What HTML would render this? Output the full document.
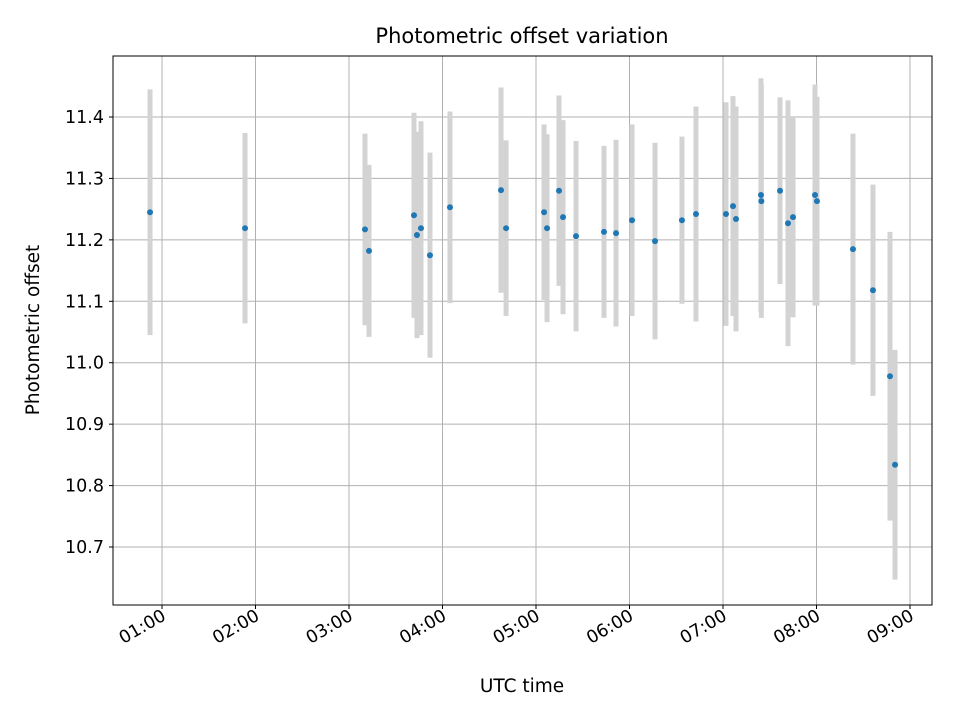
<!DOCTYPE html>
<html><head><meta charset="utf-8"><style>
body{margin:0;background:#fff;font-family:"Liberation Sans","DejaVu Sans",sans-serif}
svg text{font-family:"DejaVu Sans","Liberation Sans",sans-serif;fill:#000}
</style></head><body>
<svg id="chart" width="960" height="720" xmlns="http://www.w3.org/2000/svg">
<rect width="960" height="720" fill="#fff"/>
<text x="522" y="43" font-size="21" text-anchor="middle">Photometric offset variation</text>
<text x="522" y="692" font-size="18.5" text-anchor="middle">UTC time</text>
<text transform="translate(39,330) rotate(-90)" font-size="18.5" text-anchor="middle">Photometric offset</text>
<g id="grid"></g>
<g id="errs"></g>
<g id="pts"></g>
<g id="axes"></g>
<rect x="113" y="56" width="819" height="549" fill="none" stroke="#000" stroke-width="1"/>
</svg>
<script>
const times=[0.872,1.888,3.171,3.214,3.695,3.727,3.77,3.866,4.08,4.626,4.68,5.086,5.118,5.246,5.289,5.428,5.727,5.856,6.027,6.273,6.561,6.711,7.032,7.107,7.139,7.406,7.41,7.61,7.695,7.749,7.984,8.005,8.39,8.604,8.786,8.84];
const offsets=[11.245,11.219,11.217,11.182,11.24,11.208,11.219,11.175,11.253,11.281,11.219,11.245,11.219,11.28,11.237,11.206,11.213,11.211,11.232,11.198,11.232,11.242,11.242,11.255,11.234,11.273,11.263,11.28,11.227,11.237,11.273,11.263,11.185,11.118,10.978,10.834];
const errors=[0.2,0.155,0.156,0.14,0.167,0.168,0.174,0.167,0.156,0.167,0.143,0.143,0.153,0.155,0.158,0.155,0.14,0.152,0.156,0.16,0.136,0.175,0.182,0.179,0.183,0.19,0.19,0.152,0.2,0.163,0.18,0.17,0.188,0.172,0.235,0.187];
const xTicks=[1,2,3,4,5,6,7,8,9];
const xTickLabels=["01:00","02:00","03:00","04:00","05:00","06:00","07:00","08:00","09:00"];
const yTicks=[10.7,10.8,10.9,11.0,11.1,11.2,11.3,11.4];
const yTickLabels=["10.7","10.8","10.9","11.0","11.1","11.2","11.3","11.4"];
const NS="http://www.w3.org/2000/svg";
const X=h=>162+(h-1)*93.5;
const Y=v=>117+(11.4-v)*614.3;
function mk(tag,attrs,parent){const e=document.createElementNS(NS,tag);for(const k in attrs)e.setAttribute(k,attrs[k]);parent.appendChild(e);return e;}
const grid=document.getElementById('grid'),axes=document.getElementById('axes'),errs=document.getElementById('errs'),pts=document.getElementById('pts');
xTicks.forEach((t,i)=>{const x=X(t);
 const g=mk('line',{x1:x,x2:x,y1:56,y2:605,stroke:'#b0b0b0','stroke-width':1},grid);
 
 
 const tk=mk('line',{x1:x,x2:x,y1:605,y2:609,stroke:'#000'},axes);
 
 
 const tx=mk('text',{x:x+5,y:619,'font-size':17.5,'text-anchor':'end',transform:`rotate(-30 ${x+5} 619)`},axes);
 tx.textContent=xTickLabels[i];
 
 
});
yTicks.forEach((t,i)=>{const y=Y(t);
 const g=mk('line',{x1:113,x2:932,y1:y,y2:y,stroke:'#b0b0b0','stroke-width':1},grid);
 
 
 const tk=mk('line',{x1:109,x2:113,y1:y,y2:y,stroke:'#000'},axes);
 
 
 const tx=mk('text',{x:104,y:y+6,'font-size':17.5,'text-anchor':'end'},axes);
 tx.textContent=yTickLabels[i];
 
 
});
times.forEach((t,i)=>{const x=X(t);
 const e=mk('line',{x1:x,x2:x,y1:Y(offsets[i]+errors[i]),y2:Y(offsets[i]-errors[i]),stroke:'#d3d3d3','stroke-width':5},errs);
 
 
});
times.forEach((t,i)=>{
 const c=mk('circle',{cx:X(t),cy:Y(offsets[i]),r:3,fill:'#1f77b4'},pts);
 
 
});
</script>
</body></html>
